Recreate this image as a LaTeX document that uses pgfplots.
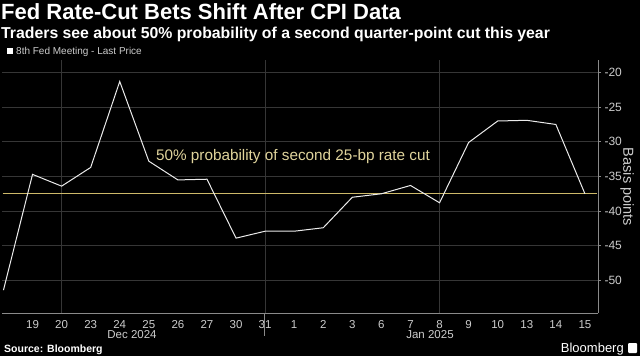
\documentclass[border=0pt]{standalone}
\usepackage{fontspec}
\setmainfont{Liberation Sans}
\newfontfamily\titlefont{Liberation Sans}
\usepackage{pgfplots}
\pgfplotsset{compat=1.18}
\definecolor{cutyellow}{RGB}{205,185,105}
\definecolor{cuttext}{HTML}{E0D49C}
\definecolor{gridc}{HTML}{363636}
\definecolor{axisc}{HTML}{8A8A8A}
\definecolor{labc}{HTML}{CCCCCC}
\begin{document}
\begin{tikzpicture}[x=1bp,y=1bp]
\fill[black] (0,0) rectangle (640,356);
% titles
\node[anchor=base west, text=white, inner sep=0, font=\titlefont\fontsize{22bp}{25bp}\selectfont\bfseries] at (1,356-19) {Fed Rate-Cut Bets Shift After CPI Data};
\node[anchor=base west, text=white, inner sep=0, font=\titlefont\fontsize{15.8bp}{18bp}\selectfont\bfseries] at (1,356-38) {Traders see about 50\% probability of a second quarter-point cut this year};
% legend
\fill[white] (7,356-54) rectangle (13,356-48);
\node[anchor=base west, text=labc, inner sep=0, font=\fontsize{10bp}{12bp}\selectfont] at (16,356-54) {8th Fed Meeting - Last Price};
\begin{axis}[
  at={(2bp,43bp)}, anchor=south west, scale only axis,
  width=596bp, height=253bp,
  xmin=-0.05, xmax=20.45, ymin=-54.7, ymax=-18.2,
  axis x line*=bottom, axis y line*=right,
  axis line style={axisc, line width=0.8bp},
  xtick={1,...,20},
  xticklabels={19,20,23,24,25,26,27,30,31,1,2,3,6,7,8,9,10,13,14,15},
  x tick label style={text=labc, font=\fontsize{11.5bp}{13bp}\selectfont, inner sep=0, yshift=-4bp},
  major x tick style={draw=none},
  ytick={-50,-45,...,-20},
  y tick label style={text=labc, font=\fontsize{12bp}{14bp}\selectfont},
  y tick style={axisc, line width=0.8bp},
  tick align=outside, major tick length=3bp,
  ymajorgrids, grid style={gridc, line width=0.6bp},
  /pgf/number format/assume math mode=true,
  clip=false,
]
\draw[gridc, line width=0.6bp] (axis cs:2,-54.7) -- (axis cs:2,-18.2);
\draw[gridc, line width=0.6bp] (axis cs:9,-54.7) -- (axis cs:9,-18.2);
\draw[gridc, line width=0.6bp] (axis cs:15,-54.7) -- (axis cs:15,-18.2);
\addplot[cutyellow, line width=1.4bp] coordinates {(-0.03,-37.5) (20.43,-37.5)};
\addplot[white!92!black, line width=1bp] coordinates {
(0,-51.4) (1,-34.7) (2,-36.4) (3,-33.7) (4,-21.3) (5,-32.8) (6,-35.5) (7,-35.4)
(8,-43.9) (9,-42.9) (10,-42.9) (11,-42.4) (12,-38.0) (13,-37.5) (14,-36.3)
(15,-38.8) (16,-30.1) (17,-27.0) (18,-26.9) (19,-27.5) (20,-37.5)};
\end{axis}
% annotation
\node[text=cuttext, inner sep=0, font=\fontsize{15.3bp}{17bp}\selectfont] at (293,356-157) {50\% probability of second 25-bp rate cut};
% axis label
\node[text=labc, rotate=-90, inner sep=0, font=\fontsize{14.5bp}{16bp}\selectfont] at (627,356-187) {Basis points};
% month separator
\draw[axisc, line width=0.6bp] (264,356-313) -- (264,356-336);
\node[text=labc, inner sep=0, font=\fontsize{11.5bp}{13bp}\selectfont] at (132,356-335) {Dec 2024};
\node[text=labc, inner sep=0, font=\fontsize{11.5bp}{13bp}\selectfont] at (430,356-335) {Jan 2025};
% footer
\node[anchor=base west, text=white, inner sep=0, font=\fontsize{10.5bp}{12bp}\selectfont\bfseries] at (4,356-352) {Source: Bloomberg};
\node[anchor=base east, text=white, inner sep=0, font=\fontsize{13bp}{15bp}\selectfont] at (624,356-352) {Bloomberg};
\fill[white, rounded corners=1bp] (628,356-353) rectangle (637,356-343);
\end{tikzpicture}
\end{document}
